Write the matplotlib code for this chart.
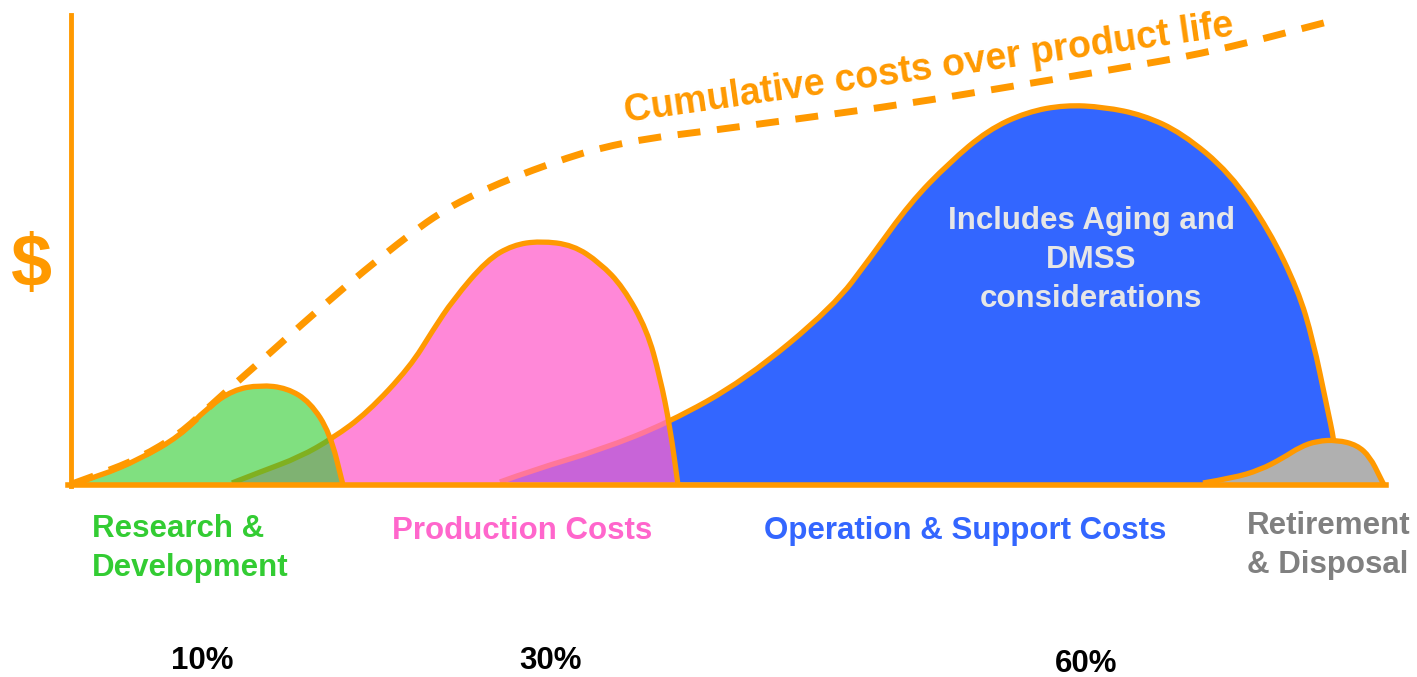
"""
Life-cycle cost sketch: R&D, production, operation & support, retirement,
with the cumulative cost curve dashed over the top.
"""

import numpy as np
import matplotlib

matplotlib.use("Agg")
import matplotlib.pyplot as plt
from matplotlib.patches import PathPatch
from matplotlib.path import Path

# Outline of each cost hump (x = time, y = cost, pixel space)
rd_x = [70, 100, 140, 180, 207, 233, 260, 287, 310, 330, 343]
rd_y = [485, 476, 459, 436, 408, 390, 385, 388, 402, 433, 485]

prod_x = [232, 260, 300, 333, 367, 410, 433, 453, 487, 513, 540, 573, 600, 623, 647, 660, 670, 678]
prod_y = [483, 472, 457, 438, 413, 367, 330, 300, 260, 245, 241, 245, 263, 287, 330, 377, 427, 485]

ops_x = [500, 533, 600, 668, 745, 833, 871, 910, 949, 988, 1027, 1065, 1104,
         1143, 1182, 1230, 1269, 1298, 1313, 1327, 1334, 1340]
ops_y = [482, 470, 450, 423, 380, 307, 257, 203, 163, 130, 112, 105, 107,
         115, 133, 173, 230, 290, 340, 407, 440, 485]

ret_x = [1203, 1233, 1260, 1283, 1300, 1317, 1337, 1357, 1370, 1380, 1384]
ret_y = [483, 478, 470, 458, 447, 441, 440, 445, 457, 477, 485]

# Cumulative cost curve
cum_x = [72, 100, 140, 180, 210, 237, 270, 300, 347, 380, 413, 440, 467, 500, 533,
         567, 600, 650, 700, 804, 906, 1008, 1110, 1212, 1335]
cum_y = [484, 474, 458, 434, 406, 382, 353, 326, 285, 258, 232, 213, 198, 183, 170,
         158, 148, 138, 132, 118, 104, 87, 70, 52, 20]

phase_labels = ["Research &\nDevelopment", "Production Costs",
                "Operation & Support Costs", "Retirement\n& Disposal"]
shares = ["10%", "30%", "60%"]

ORANGE = "#FF9900"
FONT = ["Liberation Sans", "DejaVu Sans"]
plt.rcParams["font.family"] = FONT

fig = plt.figure(figsize=(14.17, 6.77), dpi=100)
ax = fig.add_axes([0, 0, 1, 1])
ax.set_xlim(0, 1417)
ax.set_ylim(677, 0)
ax.axis("off")


def smooth_path(x, y, close=False):
    # quadratic bezier through the midpoints, the read points act as controls
    pts = np.column_stack([x, y]).astype(float)
    verts = [pts[0]]
    codes = [Path.MOVETO]
    for i in range(1, len(pts) - 1):
        verts += [pts[i], (pts[i] + pts[i + 1]) / 2]
        codes += [Path.CURVE3, Path.CURVE3]
    verts.append(pts[-1])
    codes.append(Path.LINETO)
    if close:
        verts.append(pts[0])
        codes.append(Path.CLOSEPOLY)
    return Path(verts, codes)


def hump(x, y, face, z, clip=None):
    patch = PathPatch(smooth_path(x, y, close=True), facecolor=face,
                      edgecolor="none", zorder=z)
    ax.add_patch(patch)
    if clip is not None:
        patch.set_clip_path(clip)
    return patch


def outline(x, y, color, z, clip=None, lw=3.8, ls="-"):
    patch = PathPatch(smooth_path(x, y), facecolor="none", edgecolor=color,
                      lw=lw, linestyle=ls, joinstyle="round", capstyle="butt",
                      zorder=z)
    ax.add_patch(patch)
    if clip is not None:
        patch.set_clip_path(clip)
    return patch


# operation & support (bottom), then retirement
ops_poly = hump(ops_x, ops_y, "#3366FF", 1)
outline(ops_x, ops_y, ORANGE, 1.1)
hump(ret_x, ret_y, "#B0B0B0", 2)
outline(ret_x, ret_y, ORANGE, 2.1)

# production, with the blue overlap showing through in purple
prod_poly = hump(prod_x, prod_y, "#FF88D8", 3)
hump(ops_x, ops_y, "#C864D8", 3.2, clip=prod_poly)
outline(ops_x, ops_y, "#FF7799", 3.3, clip=prod_poly)
outline(prod_x, prod_y, ORANGE, 3.4)

# R&D on top, with the production overlap in grey-green
rd_poly = hump(rd_x, rd_y, "#80E080", 4)
hump(prod_x, prod_y, "#7FB272", 4.2, clip=rd_poly)
outline(prod_x, prod_y, "#80B020", 4.3, clip=rd_poly)
outline(rd_x, rd_y, ORANGE, 4.4)

# axes drawn by hand
ax.plot([71, 71], [15, 486], color=ORANGE, lw=3.5, zorder=6)
ax.plot([68, 1386], [485, 485], color=ORANGE, lw=4, zorder=6)

# cumulative costs
outline(cum_x, cum_y, ORANGE, 7, lw=5, ls=(0, (3.3, 2.4)))
ax.text(930, 79, "Cumulative costs over product life", color=ORANGE, fontsize=27,
        fontweight="bold", rotation=8.1, rotation_mode="anchor",
        ha="center", va="baseline", zorder=8)

ax.text(31, 267, "$", color=ORANGE, fontsize=53, fontweight="bold",
        ha="center", va="center")

ax.text(1091, 206, "Includes Aging and\nDMSS\nconsiderations", color="#E6E6E6",
        fontsize=22.5, fontweight="bold", ha="center", va="top",
        multialignment="center", linespacing=1.39, zorder=8)

# phase labels under the axis
ax.text(92, 514, phase_labels[0], color="#33CC33", fontsize=22.5, fontweight="bold",
        ha="left", va="top", linespacing=1.39)
ax.text(522, 539, phase_labels[1], color="#FF66CC", fontsize=22.5, fontweight="bold",
        ha="center", va="baseline")
ax.text(965, 539, phase_labels[2], color="#3366FF", fontsize=22.5, fontweight="bold",
        ha="center", va="baseline")
ax.text(1247, 511, phase_labels[3], color="#808080", fontsize=22.5, fontweight="bold",
        ha="left", va="top", linespacing=1.39)

for xpos, ypos, share in zip([202, 551, 1086], [669, 669, 672], shares):
    ax.text(xpos, ypos, share, color="black", fontsize=22.5, fontweight="bold",
            ha="center", va="baseline")

fig.savefig("out.png", dpi=100)
